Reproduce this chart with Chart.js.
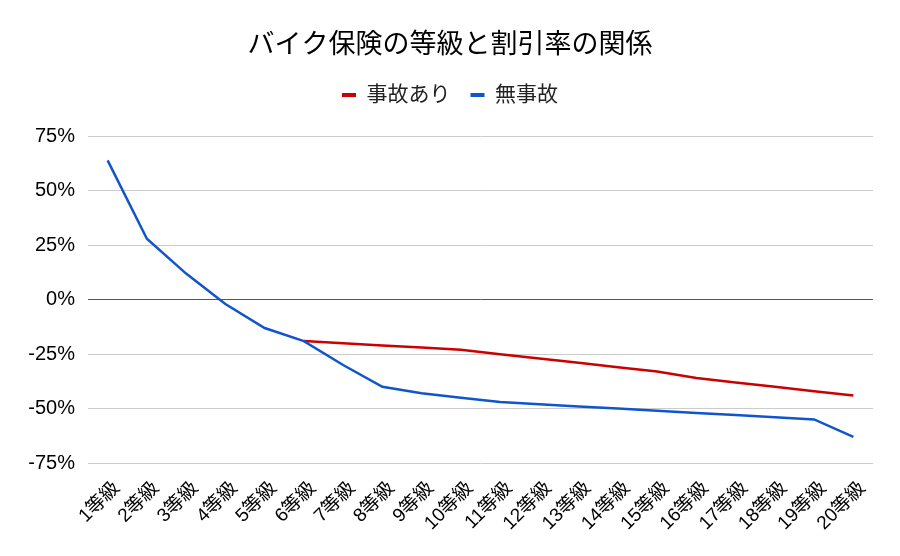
<!DOCTYPE html>
<html>
<head>
<meta charset="utf-8">
<script src="https://cdn.jsdelivr.net/npm/chart.js@4"></script>
<style>
  html, body { margin: 0; padding: 0; background: #fff; }
  #wrap { width: 900px; height: 556px; }
</style>
</head>
<body>
<div id="wrap"><canvas id="rateChart"></canvas></div>
<script>
// 等級ごとの割引率（%）
const grades = ['1等級', '2等級', '3等級', '4等級', '5等級', '6等級', '7等級', '8等級', '9等級', '10等級',
    '11等級', '12等級', '13等級', '14等級', '15等級', '16等級', '17等級', '18等級', '19等級', '20等級'];
const withAccident = [null, null, null, null, null, -19, -20, -21, -22, -23,
    -25, -27, -29, -31, -33, -36, -38, -40, -42, -44];
const noAccident = [64, 28, 12, -2, -13, -19, -30, -40, -43, -45,
    -47, -48, -49, -50, -51, -52, -53, -54, -55, -63];
const yTicks = [-75, -50, -25, 0, 25, 50, 75];

const FONT = "'Liberation Sans', Arial, 'Noto Sans CJK JP', sans-serif";

// 凡例とグラフの間に余白を足す
const legendGap = {
    id: 'legendGap',
    beforeLayout(chart) {
        const lg = chart.legend;
        if (lg && !lg._gapPatched) {
            const fit = lg.fit.bind(lg);
            lg.fit = function() { fit(); this.height += 21; };
            lg._gapPatched = true;
        }
    }
};

const ctx = document.getElementById('rateChart').getContext('2d');
const rateChart = new Chart(ctx, {
    type: 'line',
    data: {
        labels: grades,
        datasets: [{
            label: '事故あり',
            data: withAccident,
            borderColor: '#cc0000',
            backgroundColor: '#cc0000',
            borderWidth: 2.5,
            pointRadius: 0,
            tension: 0,
            order: 2
        }, {
            label: '無事故',
            data: noAccident,
            borderColor: '#1155cc',
            backgroundColor: '#1155cc',
            borderWidth: 2.5,
            pointRadius: 0,
            tension: 0,
            order: 1
        }]
    },
    options: {
        responsive: true,
        maintainAspectRatio: false,
        animation: false,
        layout: { padding: { left: 27, right: 27, top: 0, bottom: 0 } },
        plugins: {
            title: {
                display: true,
                text: 'バイク保険の等級と割引率の関係',
                color: '#000',
                font: { family: FONT, size: 27, weight: 'normal' },
                padding: { top: 29, bottom: 3 }
            },
            legend: {
                display: true,
                labels: {
                    color: '#222',
                    font: { family: FONT, size: 21 },
                    boxWidth: 14,
                    boxHeight: 4,
                    padding: 20,
                    sort: (a, b) => a.datasetIndex - b.datasetIndex,
                    generateLabels: (chart) => Chart.defaults.plugins.legend.labels.generateLabels(chart)
                        .map(l => Object.assign(l, { lineWidth: 0 }))
                }
            },
            tooltip: { enabled: false }
        },
        scales: {
            x: {
                offset: true,
                grid: { display: false },
                border: { display: false },
                ticks: {
                    color: '#000',
                    font: { family: FONT, size: 19 },
                    minRotation: 45,
                    maxRotation: 45,
                    autoSkip: false,
                    padding: 6,
                    labelOffset: 9
                },
                afterFit: (scale) => { scale.height = 93; }
            },
            y: {
                min: -75,
                max: 75,
                afterBuildTicks: (scale) => { scale.ticks = yTicks.map(v => ({ value: v })); },
                grid: {
                    color: (c) => c.tick && c.tick.value === 0 ? '#555' : '#ccc',
                    drawTicks: false
                },
                border: { display: false },
                ticks: {
                    color: '#000',
                    font: { family: FONT, size: 20 },
                    padding: 13,
                    callback: (v) => v + '%'
                },
                afterFit: (scale) => { scale.width = 61; }
            }
        }
    },
    plugins: [legendGap]
});
</script>
</body>
</html>
